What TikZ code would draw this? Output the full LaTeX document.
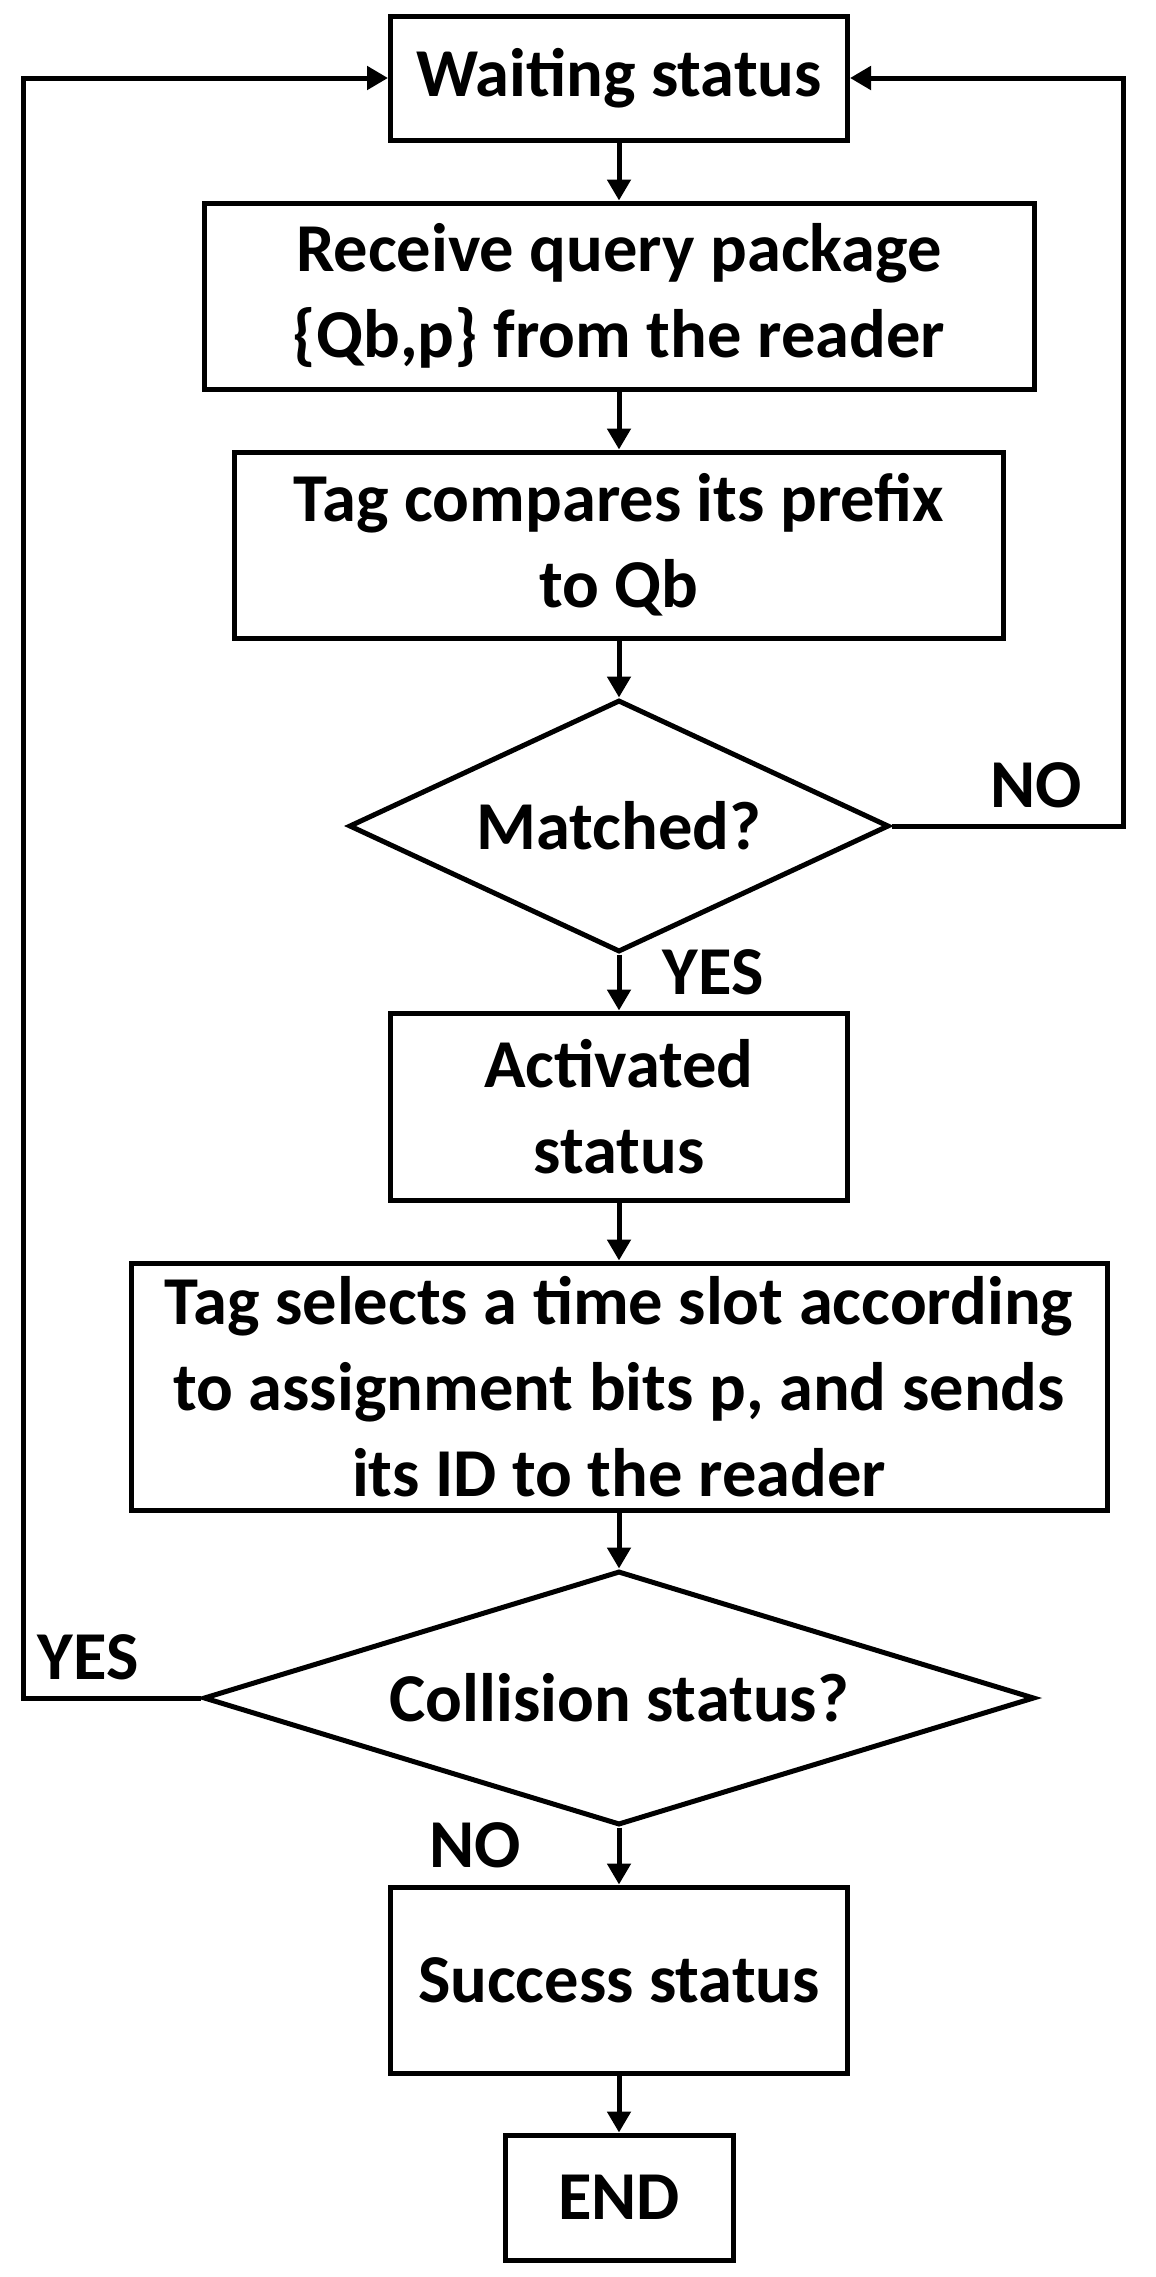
\documentclass[tikz,border=0pt]{standalone}
\usepackage{fontspec}
\setmainfont{Carlito}
\usetikzlibrary{arrows.meta,shapes.geometric}

\begin{document}
\begin{tikzpicture}[
  font=\bfseries\fontsize{19.5}{24.5}\selectfont,
  procbox/.style={draw,line width=0.05cm,align=center,inner sep=1pt},
  decision/.style={draw,diamond,line width=0.05cm,inner sep=0pt},
  flowarrow/.style={line width=0.05cm,-{Triangle[length=0.21cm,width=0.23cm]}},
  branchlbl/.style={inner sep=0pt}
]
  \useasboundingbox (0,0) rectangle (11.56,-22.77);
  % process steps
  \node[procbox,minimum width=4.57cm,minimum height=1.24cm] (wait) at (6.19,-0.78) {Waiting status};
  \node[procbox,minimum width=8.30cm,minimum height=1.86cm] (recv) at (6.19,-2.96) {Receive query package\\\{Qb,p\} from the reader};
  \node[procbox,minimum width=7.69cm,minimum height=1.86cm] (comp) at (6.19,-5.45) {Tag compares its prefix\\to Qb};
  \node[decision,aspect=2.14,minimum width=5.40cm,minimum height=2.52cm] (match) at (6.19,-8.26) {Matched?};
  \node[procbox,minimum width=4.57cm,minimum height=1.87cm] (act) at (6.19,-11.065) {Activated\\status};
  \node[procbox,minimum width=9.76cm,minimum height=2.47cm] (sel) at (6.19,-13.865) {Tag selects a time slot according\\to assignment bits p, and sends\\its ID to the reader};
  \node[decision,aspect=3.27,minimum width=8.31cm,minimum height=2.54cm] (coll) at (6.19,-16.98) {Collision status?};
  \node[procbox,minimum width=4.57cm,minimum height=1.86cm] (succ) at (6.19,-19.80) {Success status};
  \node[procbox,minimum width=2.28cm,minimum height=1.25cm] (fin) at (6.19,-21.975) {END};
  % branch labels
  \node[branchlbl] (nomatch) at (10.36,-7.85) {NO};
  \node[branchlbl] (yesmatch) at (7.13,-9.72) {YES};
  \node[branchlbl] (yescoll) at (0.88,-16.57) {YES};
  \node[branchlbl] (nocoll) at (4.75,-18.45) {NO};
  % loop corners
  \coordinate (rloop) at (11.23,-0.78);
  \coordinate (lloop) at (0.237,-0.78);
  % main flow
  \draw[flowarrow] (wait) -- (recv);
  \draw[flowarrow] (recv) -- (comp);
  \draw[flowarrow] (comp) -- (match);
  \draw[flowarrow] (match) -- (act);
  \draw[flowarrow] (act) -- (sel);
  \draw[flowarrow] (sel) -- (coll);
  \draw[flowarrow] (coll) -- (succ);
  \draw[flowarrow] (succ) -- (fin);
  % feedback loops
  \draw[flowarrow] (match.east) -| (rloop) -- (wait.east);
  \draw[flowarrow] (coll.west) -| (lloop) -- (wait.west);
\end{tikzpicture}
\end{document}
